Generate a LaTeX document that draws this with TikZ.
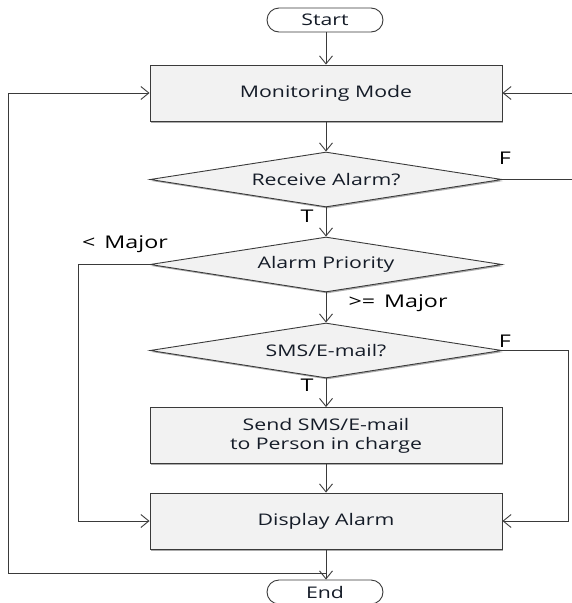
\documentclass[tikz,border=0pt]{standalone}
\usepackage{fontspec}
\setmainfont{Open Sans}[FakeStretch=1.33]
\usetikzlibrary{arrows.meta,shapes.geometric,shadows}
\definecolor{boxfill}{HTML}{F2F2F2}
\definecolor{edge}{HTML}{3A3A3A}
\definecolor{txt}{HTML}{151C28}
\tikzset{
  proc/.style={draw=edge,line width=0.9pt,fill=boxfill,minimum width=352pt,minimum height=56pt,inner sep=0pt,
    text=txt,font=\fontsize{16}{19}\selectfont,align=center,
    drop shadow={shadow xshift=1.2pt,shadow yshift=-1.5pt,fill=black!55,opacity=0.6}},
  dec/.style={diamond,shape aspect=6.4,draw=edge,line width=0.9pt,fill=boxfill,minimum width=352pt,minimum height=55pt,inner sep=0pt,
    text=txt,font=\fontsize{16}{19}\selectfont,
    drop shadow={shadow xshift=1.2pt,shadow yshift=-1.5pt,fill=black!55,opacity=0.6}},
  term/.style={draw=edge,line width=0.9pt,fill=white,rounded corners=12pt,minimum width=116pt,minimum height=24pt,
    inner sep=0pt,text=txt,font=\fontsize{16}{19}\selectfont},
  arr/.style={draw=edge,line width=0.9pt,-{Straight Barb[length=8pt,width=13pt]}},
  lbl/.style={text=black,font=\fontsize{17.5}{20}\selectfont,inner sep=0pt}
}
\begin{document}
\begin{tikzpicture}[x=1pt,y=-1pt]
\useasboundingbox (0,0) rectangle (571,603);
\node[term] (start) at (325,20) {Start};
\node[proc] (mon) at (326,93) {Monitoring Mode};
\node[dec] (rcv) at (326,179.5) {Receive Alarm?};
\node[dec] (pri) at (326,264.5) {Alarm Priority};
\node[dec] (sms) at (326,350.5) {SMS/E-mail?};
\node[proc] (send) at (326,435.5) {Send SMS/E-mail\\to Person in charge};
\node[proc] (disp) at (326,521) {Display Alarm};
\node[term] (end) at (325,592) {End};

\coordinate (j) at (326,573);
\coordinate (lx) at (8,573);
\coordinate (rx) at (574,0);
\coordinate (ml) at (78,0);
\coordinate (sr) at (568,0);

\draw[arr] (start.south -| mon.north) -- (mon.north);
\draw[arr] (mon.south) -- (rcv.north);
\draw[arr] (rcv.south) -- (pri.north);
\draw[arr] (pri.south) -- (sms.north);
\draw[arr] (sms.south) -- (send.north);
\draw[arr] (send.south) -- (disp.south |- disp.north);
\draw[arr] (disp.south) -- (disp.south |- end.north);
\draw[arr] (j) -- (lx) |- (mon.west);
\draw[arr] (rcv.east) -- (rcv.east -| rx) |- (mon.east);
\draw[arr] (pri.west) -- (pri.west -| ml) |- (disp.west);
\draw[arr] (sms.east) -- (sms.east -| sr) |- (disp.east);

\node[lbl] (fa) at (505,158) {F};
\node[lbl] (ta) at (307,216) {T};
\node[lbl] (lm) at (125,244) {<\, Major};
\node[lbl] (gm) at (398,303) {>=\, Major};
\node[lbl] (fb) at (505,341) {F};
\node[lbl] (tb) at (307,385) {T};
\end{tikzpicture}
\end{document}
